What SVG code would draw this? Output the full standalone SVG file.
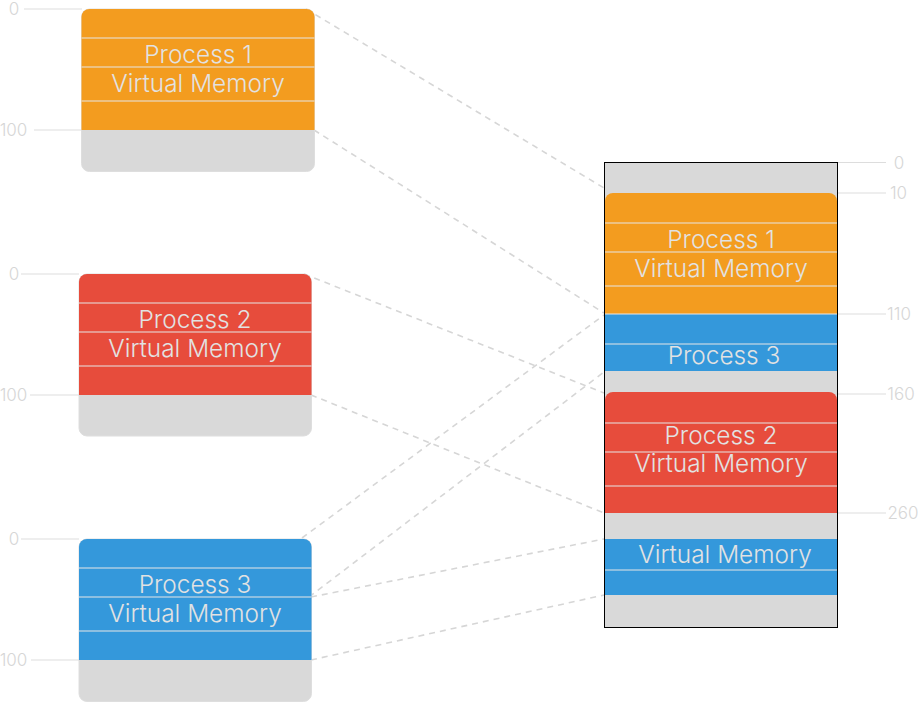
<svg xmlns="http://www.w3.org/2000/svg" width="918" height="702" viewBox="0 0 918 702">
<style>
.lbl{font-family:Inter,"Liberation Sans",sans-serif;font-weight:300;font-size:24.4px;fill:#e2e2e2;text-anchor:middle}
.ax{font-family:Inter,"Liberation Sans",sans-serif;font-weight:300;font-size:17px;fill:#d6d6d6;text-anchor:middle}
.axl{stroke:#dddddd;stroke-width:1.2;fill:none}
.sep{stroke:#e6e6e6;stroke-width:1;fill:none}
.conn{stroke:#d6d6d6;stroke-width:1.6;stroke-dasharray:6 5;fill:none}
.gray{fill:#d9d9d9}
.org{fill:#f39c1f}
.red{fill:#e74c3c}
.blu{fill:#3498db}
</style>
<rect width="918" height="702" fill="#ffffff"/>
<g id="connectors">
<line class="conn" x1="306" y1="9" x2="604" y2="188"/>
<line class="conn" x1="314" y1="130" x2="604" y2="313"/>
<line class="conn" x1="304" y1="274" x2="604" y2="393"/>
<line class="conn" x1="311" y1="395" x2="604" y2="513"/>
<line class="conn" x1="302" y1="538" x2="604" y2="315"/>
<line class="conn" x1="309" y1="597" x2="604" y2="372"/>
<line class="conn" x1="311" y1="597" x2="604" y2="539"/>
<line class="conn" x1="311" y1="660" x2="604" y2="595"/>
</g>
<g id="axis-left">
<line class="axl" x1="24" y1="9" x2="82" y2="9"/><text class="ax" x="14" y="15">0</text>
<line class="axl" x1="34" y1="130" x2="82" y2="130"/><text class="ax" x="13.5" y="136">100</text>
<line class="axl" x1="21" y1="274" x2="79" y2="274"/><text class="ax" x="14" y="280">0</text>
<line class="axl" x1="30" y1="395" x2="79" y2="395"/><text class="ax" x="13.5" y="401">100</text>
<line class="axl" x1="21" y1="539" x2="79" y2="539"/><text class="ax" x="14" y="545">0</text>
<line class="axl" x1="31" y1="660" x2="79" y2="660"/><text class="ax" x="13.5" y="666">100</text>
</g>
<g id="process1">
<rect class="gray" x="81.5" y="9" width="233" height="162.5" rx="8" stroke="#dedede" stroke-width="1"/>
<path class="org" d="M81.5 130V17a8 8 0 0 1 8-8h217a8 8 0 0 1 8 8V130Z"/>
<line class="sep" x1="81.5" y1="38" x2="314.5" y2="38"/>
<line class="sep" x1="81.5" y1="67" x2="314.5" y2="67"/>
<line class="sep" x1="81.5" y1="101" x2="314.5" y2="101"/>
<text class="lbl" x="198" y="63">Process 1</text>
<text class="lbl" x="198" y="92">Virtual Memory</text>
</g>
<g id="process2">
<rect class="gray" x="79" y="274" width="232.5" height="162" rx="8" stroke="#dedede" stroke-width="1"/>
<path class="red" d="M79 395V282a8 8 0 0 1 8-8h216.5a8 8 0 0 1 8 8V395Z"/>
<line class="sep" x1="79" y1="303" x2="311.5" y2="303"/>
<line class="sep" x1="79" y1="332" x2="311.5" y2="332"/>
<line class="sep" x1="79" y1="366" x2="311.5" y2="366"/>
<text class="lbl" x="195" y="328">Process 2</text>
<text class="lbl" x="195" y="357">Virtual Memory</text>
</g>
<g id="process3">
<rect class="gray" x="79" y="539" width="232.5" height="162.5" rx="8" stroke="#dedede" stroke-width="1"/>
<path class="blu" d="M79 660V547a8 8 0 0 1 8-8h216.5a8 8 0 0 1 8 8V660Z"/>
<line class="sep" x1="79" y1="568" x2="311.5" y2="568"/>
<line class="sep" x1="79" y1="597" x2="311.5" y2="597"/>
<line class="sep" x1="79" y1="631" x2="311.5" y2="631"/>
<text class="lbl" x="195" y="593">Process 3</text>
<text class="lbl" x="195" y="622">Virtual Memory</text>
</g>
<g id="physical-memory">
<rect class="gray" x="604.5" y="162.5" width="233" height="465" stroke="#000000" stroke-width="1"/>
<path class="org" d="M605 314V201a8 8 0 0 1 8-8h216a8 8 0 0 1 8 8V314Z"/>
<line class="sep" x1="605" y1="223" x2="837" y2="223"/>
<line class="sep" x1="605" y1="252" x2="837" y2="252"/>
<line class="sep" x1="605" y1="286" x2="837" y2="286"/>
<text class="lbl" x="721" y="247.5">Process 1</text>
<text class="lbl" x="721" y="277">Virtual Memory</text>
<rect class="blu" x="605" y="314" width="232" height="57"/>
<line class="sep" x1="605" y1="314" x2="837" y2="314"/>
<line class="sep" x1="605" y1="344" x2="837" y2="344"/>
<text class="lbl" x="724" y="363.5">Process 3</text>
<path class="red" d="M605 513V400a8 8 0 0 1 8-8h216a8 8 0 0 1 8 8V513Z"/>
<line class="sep" x1="605" y1="423" x2="837" y2="423"/>
<line class="sep" x1="605" y1="452" x2="837" y2="452"/>
<line class="sep" x1="605" y1="486" x2="837" y2="486"/>
<text class="lbl" x="721" y="443.5">Process 2</text>
<text class="lbl" x="721" y="472">Virtual Memory</text>
<rect class="blu" x="605" y="539" width="232" height="56"/>
<line class="sep" x1="605" y1="570" x2="837" y2="570"/>
<text class="lbl" x="725" y="563">Virtual Memory</text>
</g>
<g id="axis-right">
<line class="axl" x1="838" y1="162.5" x2="886" y2="162.5"/><text class="ax" x="899" y="168.5">0</text>
<line class="axl" x1="838" y1="193" x2="886" y2="193"/><text class="ax" x="898.5" y="199">10</text>
<line class="axl" x1="838" y1="314" x2="886" y2="314"/><text class="ax" x="899" y="320">110</text>
<line class="axl" x1="838" y1="394" x2="886" y2="394"/><text class="ax" x="901" y="400">160</text>
<line class="axl" x1="838" y1="513" x2="886" y2="513"/><text class="ax" x="903" y="519">260</text>
</g>
</svg>
